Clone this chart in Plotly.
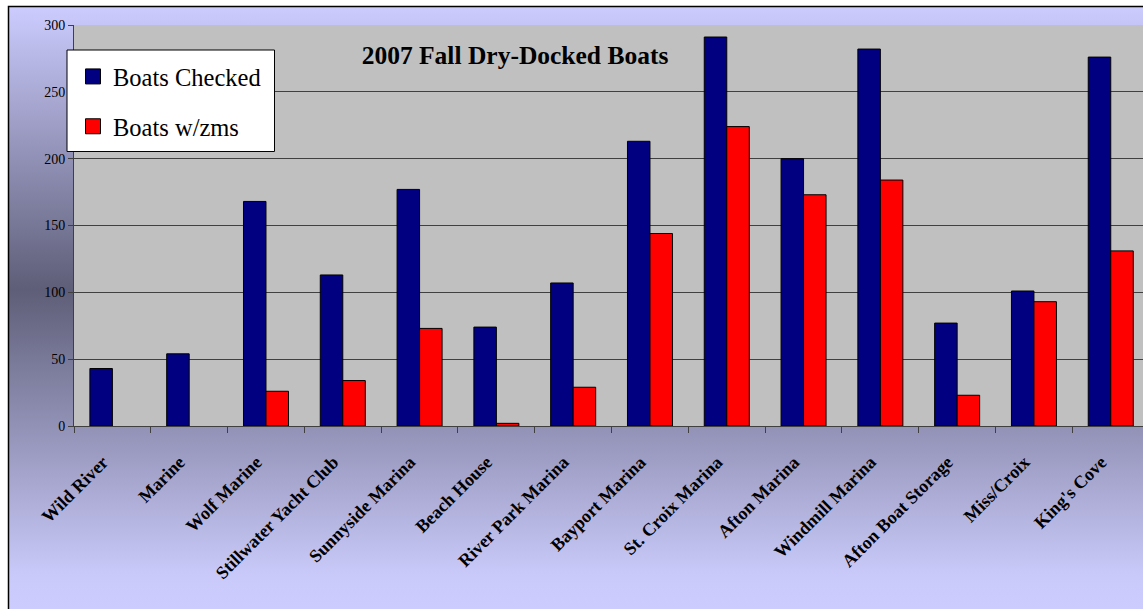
import base64
import plotly.graph_objects as go

categories = ["Wild River", "Marine", "Wolf Marine", "Stillwater Yacht Club", "Sunnyside Marina",
              "Beach House", "River Park Marina", "Bayport Marina", "St. Croix Marina", "Afton Marina",
              "Windmill Marina", "Afton Boat Storage", "Miss/Croix", "King's Cove"]
boats_checked = [43, 54, 168, 113, 177, 74, 107, 213, 291, 200, 282, 77, 101, 276]
boats_zms = [0, 0, 26, 34, 73, 2, 29, 144, 224, 173, 184, 23, 93, 131]
y_ticks = [0, 50, 100, 150, 200, 250, 300]

W, H = 1143, 609
ML, MT, MB = 74, 25, 183
PW = W - ML
PH = H - MT - MB

svg = f'''<svg xmlns="http://www.w3.org/2000/svg" width="{W}" height="{H}" viewBox="0 0 {W} {H}" preserveAspectRatio="none">
<defs><linearGradient id="g" gradientUnits="userSpaceOnUse" x1="0" y1="6" x2="0" y2="609">
<stop offset="0" stop-color="#CCCCFF"/>
<stop offset="0.47" stop-color="#5E5E78"/>
<stop offset="0.94" stop-color="#C9C9F9"/>
<stop offset="1" stop-color="#CCCCFF"/>
</linearGradient></defs>
<rect x="0" y="0" width="{W}" height="{H}" fill="#FFFFFF"/>
<rect x="8.5" y="6.5" width="1300" height="800" fill="url(#g)" stroke="#000000" stroke-width="1.5"/>
</svg>'''
src = "data:image/svg+xml;base64," + base64.b64encode(svg.encode()).decode()


def outline_widths(values):
    return [0 if v == 0 else 1 for v in values]


fig = go.Figure()
fig.add_trace(go.Bar(x=categories, y=boats_checked, name="Boats Checked", showlegend=False,
                     marker=dict(color="#000080",
                                 line=dict(color="#000000", width=outline_widths(boats_checked)))))
fig.add_trace(go.Bar(x=categories, y=boats_zms, name="Boats w/zms", showlegend=False,
                     marker=dict(color="#FF0000",
                                 line=dict(color="#000000", width=outline_widths(boats_zms)))))
# legend entries
fig.add_trace(go.Scatter(x=[None], y=[None], mode="markers", name="Boats Checked", legendgroup="a",
                         marker=dict(symbol="square", size=15, color="#000080",
                                     line=dict(color="#000000", width=1))))
fig.add_trace(go.Scatter(x=[None], y=[None], mode="markers", name="Boats w/zms", legendgroup="b",
                         marker=dict(symbol="square", size=15, color="#FF0000",
                                     line=dict(color="#000000", width=1))))


def px_x(px):
    return (px - ML) / PW


def px_y(py):
    return (H - MB - py) / PH


fig.update_layout(
    width=W, height=H,
    margin=dict(l=ML, r=0, t=MT, b=MB, pad=0),
    paper_bgcolor="#FFFFFF",
    plot_bgcolor="rgba(0,0,0,0)",
    barmode="group", bargap=0.414, bargroupgap=0,
    font=dict(family="Liberation Serif", color="#000000"),
    title=dict(text="2007 Fall Dry-Docked Boats", xref="paper", x=px_x(515), xanchor="center",
               yref="container", y=1 - 55 / H, yanchor="middle",
               font=dict(family="Liberation Serif", size=25.5, weight="bold", color="#000000")),
    showlegend=True,
    legend=dict(x=px_x(73), xanchor="left", y=px_y(54), yanchor="top",
                bgcolor="rgba(0,0,0,0)", borderwidth=0,
                font=dict(family="Liberation Serif", size=24.5, color="#000000"),
                tracegroupgap=15, itemsizing="trace"),
    images=[dict(source=src, xref="paper", yref="paper", x=px_x(0), y=px_y(0),
                 sizex=W / PW, sizey=H / PH, xanchor="left", yanchor="top",
                 sizing="stretch", layer="below")],
    shapes=[
        dict(type="rect", xref="paper", yref="paper", x0=0, x1=1.01, y0=0, y1=1,
             fillcolor="#C0C0C0", line=dict(width=0), layer="below"),
        dict(type="rect", xref="paper", yref="paper", x0=px_x(67), x1=px_x(274.5),
             y0=px_y(151.5), y1=px_y(50), fillcolor="#FFFFFF",
             line=dict(color="#000000", width=1), layer="above"),
    ],
)
fig.update_xaxes(range=[-0.5, 13.42], showline=True, linecolor="#404040", linewidth=1,
                 ticks="outside", tickson="boundaries", ticklen=6, tickcolor="#404040",
                 tickangle=-45, showgrid=False, zeroline=False, ticklabelstandoff=8,
                 ticksuffix="\u00a0\u00a0\u00a0",
                 tickfont=dict(family="Liberation Serif", size=18, weight="bold", color="#000000"))
fig.update_yaxes(range=[0, 300], tickvals=y_ticks, showline=True, linecolor="#404040", linewidth=1,
                 ticks="outside", ticklen=5, tickcolor="#404040", showgrid=True,
                 gridcolor="#404040", gridwidth=1, zeroline=False,
                 tickfont=dict(family="Liberation Serif", size=14, color="#000000"))

fig.write_html("out.html")
